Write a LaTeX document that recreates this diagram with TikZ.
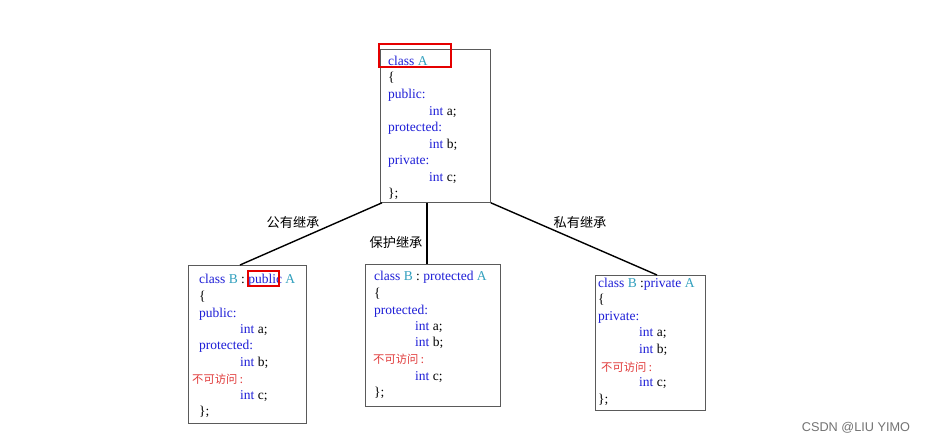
\documentclass[tikz,border=0pt]{standalone}
\usetikzlibrary{calc}
\usepackage{fontspec}
\setmainfont{Liberation Serif}
\newfontfamily\cjk{Noto Sans CJK SC}
\newfontfamily\wm{Liberation Sans}
\definecolor{kwblue}{RGB}{30,30,215}
\definecolor{clsteal}{RGB}{50,160,190}
\definecolor{lblred}{RGB}{225,60,60}
\definecolor{boxgray}{RGB}{90,90,90}
\newcommand{\kw}[1]{\textcolor{kwblue}{#1}}
\newcommand{\cl}[1]{\textcolor{clsteal}{#1}}
\tikzset{
  code/.style={anchor=base west, inner sep=0pt, yshift=-1.5pt, font=\fontsize{13.5}{13.5}\selectfont},
  noacc/.style={anchor=base west, inner sep=0pt, yshift=-1pt, text=lblred, font=\cjk\fontsize{11.3}{11.3}\selectfont},
  edgelbl/.style={inner sep=1pt, font=\cjk\fontsize{13.2}{13.2}\selectfont},
  classbox/.style={draw=boxgray, line width=0.8pt, anchor=north west, inner sep=0pt},
  hl/.style={draw=red!90!black, line width=2.2pt},
  inh/.style={draw=black, line width=1.4pt},
}
\begin{document}
\begin{tikzpicture}[x=1pt,y=-1pt]
\useasboundingbox[fill=white] (0,0) rectangle (926,443);
% ---- class A
\node[classbox, minimum width=110pt, minimum height=153pt] (A) at (380,49) {};
\node[code] (a1) at (388,64) {\kw{class} \cl{A}};
\node[code] (a2) at (388,80.5) {\{};
\node[code] (a3) at (388,97) {\kw{public:}};
\node[code] (a4) at (429,114) {\kw{int} a;};
\node[code] (a5) at (388,130) {\kw{protected:}};
\node[code] (a6) at (429,147) {\kw{int} b;};
\node[code] (a7) at (388,163) {\kw{private:}};
\node[code] (a8) at (429,180) {\kw{int} c;};
\node[code] (a9) at (388,196) {\};};
\draw[hl] (379,44) rectangle (451,67);
% ---- class B public
\node[classbox, minimum width=118pt, minimum height=158pt] (B1) at (188,265) {};
\node[code] (b1) at (199,282) {\kw{class} \cl{B} : \kw{public} \cl{A}};
\node[code] (b2) at (199,299) {\{};
\node[code] (b3) at (199,316) {\kw{public:}};
\node[code] (b4) at (240,332) {\kw{int} a;};
\node[code] (b5) at (199,348) {\kw{protected:}};
\node[code] (b6) at (240,365) {\kw{int} b;};
\node[noacc] (b7) at (192,383) {不可访问 :};
\node[code] (b8) at (240,398) {\kw{int} c;};
\node[code] (b9) at (199,414) {\};};
\draw[hl] (248,271) rectangle (279,286);
% ---- class B protected
\node[classbox, minimum width=135pt, minimum height=142pt] (B2) at (365,264) {};
\node[code] (c1) at (374,279) {\kw{class} \cl{B} : \kw{protected} \cl{A}};
\node[code] (c2) at (374,296) {\{};
\node[code] (c3) at (374,313) {\kw{protected:}};
\node[code] (c4) at (415,329) {\kw{int} a;};
\node[code] (c5) at (415,345) {\kw{int} b;};
\node[noacc] (c6) at (373,362) {不可访问 :};
\node[code] (c7) at (415,379) {\kw{int} c;};
\node[code] (c8) at (374,395) {\};};
% ---- class B private
\node[classbox, minimum width=110pt, minimum height=135pt] (B3) at (595,275) {};
\node[code] (d1) at (598,286) {\kw{class} \cl{B} :\kw{private} \cl{A}};
\node[code] (d2) at (598,302) {\{};
\node[code] (d3) at (598,319) {\kw{private:}};
\node[code] (d4) at (639,335) {\kw{int} a;};
\node[code] (d5) at (639,352) {\kw{int} b;};
\node[noacc] (d6) at (601,370) {不可访问 :};
\node[code] (d7) at (639,385) {\kw{int} c;};
\node[code] (d8) at (598,402) {\};};
% ---- connectors
\draw[inh] ($(A.south west)+(2,0)$) -- ($(B1.north west)+(52,0)$);
\draw[inh] ($(A.south west)+(47,0)$) -- ($(B2.north west)+(62,0)$);
\draw[inh] (A.south east) -- ($(B3.north west)+(62,0)$);
\node[edgelbl] (l1) at (293,222) {公有继承};
\node[edgelbl] (l2) at (396,242) {保护继承};
\node[edgelbl] (l3) at (580,222) {私有继承};
% ---- watermark
\node[inner sep=0pt, text=black!55, font=\wm\fontsize{12.7}{12.7}\selectfont] (wm) at (856,428) {CSDN @LIU YIMO};
\end{tikzpicture}
\end{document}
